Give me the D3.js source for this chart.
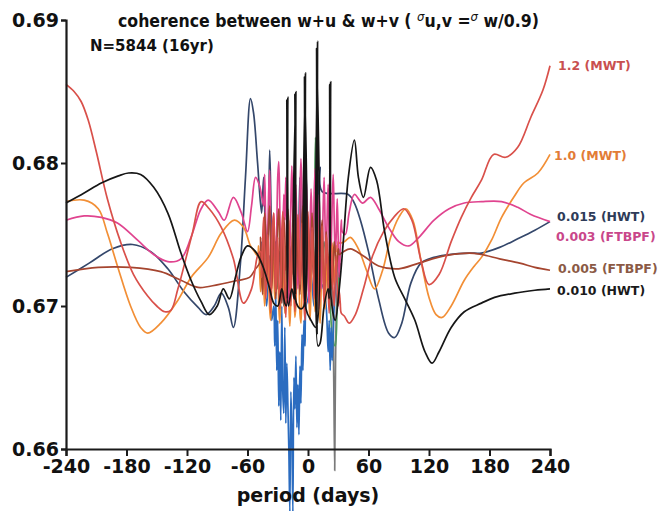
<!DOCTYPE html>
<html><head><meta charset="utf-8">
<script src="https://cdn.jsdelivr.net/npm/d3@7"></script>
<style>
html,body{margin:0;padding:0;background:#fff;}
svg{display:block;}
</style></head>
<body>
<svg id="chart" width="663" height="511"></svg>
<script>
// x ticks (period, days) and y ticks (coherence)
const xTicks = [-240, -180, -120, -60, 0, 60, 120, 180, 240];
const yTicks = [0.66, 0.67, 0.68, 0.69];

// Each curve: smooth outer parts as [period, coherence] pairs, and the
// dense short-period part as values on a regular period grid.
const mwt12Left = [[-240,0.6855],[-232,0.6850],[-225,0.6843],[-218,0.6830],[-210,0.6808],[-199,0.6775],[-186,0.6745],[-173,0.6722],[-159,0.6707],[-150,0.6700],[-142,0.6696],[-136,0.6697],[-129,0.6712],[-115,0.6750],[-106,0.6773],[-98,0.6768],[-86,0.6755],[-74,0.6733],[-64,0.6702],[-56,0.6712],[-50,0.6735]];
const mwt12Mid = {start: -47, step: 1, values: [
  0.6738,0.6720,0.6745,0.6762,0.6730,0.6705,0.6718,0.6750,0.6740,0.6712,
  0.6695,0.6728,0.6758,0.6765,0.6735,0.6710,0.6725,0.6748,0.6720,0.6698,
  0.6715,0.6752,0.6766,0.6740,0.6708,0.6692,0.6722,0.6745,0.6760,0.6728,
  0.6700,0.6735,0.6755,0.6718,0.6696,0.6712,0.6748,0.6764,0.6738,0.6715,
  0.6730,0.6758,0.6725,0.6702,0.6690,0.6720,0.6750,0.6766,0.6742,0.6710,
  0.6728,0.6755,0.6735,0.6705,0.6718,0.6746,0.6762,0.6730,0.6698,0.6712,
  0.6740,0.6756,0.6722,0.6700,0.6728,0.6750,0.6738,0.6712,0.6695,0.6718,
  0.6742,0.6730,0.6708,0.6700,0.6722,0.6735,0.6715,0.6700,0.6710,0.6702,0.6695]};
const mwt12Right = [[36,0.6693],[41,0.6688],[47,0.6694],[55,0.6712],[64,0.6735],[75,0.6752],[85,0.6762],[95,0.6768],[103,0.6760],[112,0.6732],[120,0.6715],[130,0.6722],[142,0.6745],[152,0.6762],[162,0.6776],[172,0.6788],[184,0.6806],[196,0.6804],[208,0.6811],[221,0.6832],[233,0.6851],[240,0.6868]];

const mwt10Left = [[-240,0.6773],[-222,0.6774],[-208,0.6768],[-199,0.6751],[-189,0.6728],[-176,0.6700],[-166,0.6685],[-159,0.6681],[-146,0.6688],[-129,0.6704],[-116,0.6720],[-99,0.6734],[-86,0.6751],[-73,0.6760],[-64,0.6755],[-57,0.6742],[-53,0.6738]];
const mwt10Mid = {start: -50, step: 1, values: [
  0.6735,0.6742,0.6725,0.6710,0.6728,0.6740,0.6718,0.6700,0.6712,0.6735,
  0.6745,0.6722,0.6698,0.6690,0.6715,0.6738,0.6728,0.6705,0.6720,0.6742,
  0.6732,0.6700,0.6688,0.6708,0.6730,0.6745,0.6718,0.6695,0.6712,0.6736,
  0.6725,0.6702,0.6686,0.6705,0.6732,0.6740,0.6712,0.6692,0.6700,0.6728,
  0.6742,0.6720,0.6695,0.6688,0.6710,0.6735,0.6725,0.6700,0.6715,0.6738,
  0.6730,0.6705,0.6690,0.6712,0.6735,0.6742,0.6718,0.6696,0.6708,0.6730,
  0.6722,0.6700,0.6688,0.6710,0.6732,0.6740,0.6715,0.6698,0.6718,0.6738,
  0.6728,0.6705,0.6712,0.6735,0.6744,0.6725,0.6715,0.6730,0.6742,0.6738,0.6745,0.6744]};
const mwt10Right = [[36,0.6745],[42,0.6748],[50,0.6740],[58,0.6725],[66,0.6712],[74,0.6725],[82,0.6748],[90,0.6762],[97,0.6768],[104,0.6760],[112,0.6732],[120,0.6706],[127,0.6694],[133,0.6692],[142,0.6700],[155,0.6718],[165,0.6728],[172,0.6734],[182,0.6746],[192,0.6762],[204,0.6776],[214,0.6786],[228,0.6793],[240,0.6806]];

const hwt015Left = [[-240,0.6720],[-217,0.6730],[-194,0.6740],[-174,0.6743],[-156,0.6738],[-139,0.6726],[-123,0.6710],[-109,0.6699],[-101,0.6694],[-93,0.6700],[-86,0.6709],[-79,0.6699],[-74,0.6685],[-67,0.6730],[-62,0.6790],[-57,0.6845],[-54,0.6835],[-50,0.6800],[-46,0.6765],[-44,0.6790],[-42,0.6750],[-40,0.6738],[-38,0.6809],[-36,0.6750]];
const hwt015Mid = {start: -34, step: 2, values: [0.6728,0.6745,0.6712,0.6738,0.6720,0.6700,0.6732,0.6712,0.6742,0.6722,0.6735,0.6712,0.6725,0.6790,0.6730,0.6712,0.6795,0.6735,0.6708,0.6735,0.6720,0.6745,0.6770,0.6797,0.6780]};
const hwt015Right = [[40,0.6778],[46,0.6772],[52,0.6760],[60,0.6738],[70,0.6705],[80,0.6681],[86,0.6678],[93,0.6688],[102,0.6716],[112,0.6730],[125,0.6734],[140,0.6736],[160,0.6737],[172,0.6737],[190,0.6741],[208,0.6747],[225,0.6753],[240,0.6759]];

const hwt010Left = [[-240,0.6772],[-222,0.6779],[-205,0.6786],[-188,0.6791],[-178,0.6793],[-166,0.6792],[-153,0.6783],[-139,0.6765],[-126,0.6737],[-116,0.6718],[-106,0.6703],[-98,0.6694],[-90,0.6700],[-84,0.6712],[-78,0.6705],[-72,0.6720],[-66,0.6735],[-60,0.6742],[-52,0.6738],[-46,0.6730],[-42,0.6722],[-38,0.6712],[-34,0.6702],[-30,0.6700],[-26,0.6712],[-23,0.6702]];
const hwt010Spikes = [[-21.5,0.6700],[-21,0.6844],[-20.5,0.6705],[-20,0.6846],[-19.5,0.6700],[-16,0.6712],[-13.5,0.6705],[-13,0.6848],[-12.5,0.6708],[-12,0.6850],[-11.5,0.6702],[-7,0.6698],[-4,0.6700],[-3.5,0.6860],[-3,0.6700],[-2.5,0.6863],[-2,0.6698],[3,0.6690],[8,0.6685],[8.5,0.6880],[9,0.6680],[9.5,0.6885],[10,0.6672],[12,0.6674],[16,0.6700],[20,0.6712],[21,0.6705],[21.5,0.6855],[22,0.6710],[22.5,0.6857],[23,0.6705],[27,0.6690],[31,0.6712],[35,0.6745]];
const hwt010Right = [[40,0.6790],[46,0.6816],[50,0.6790],[55,0.6776],[62,0.6797],[68,0.6788],[76,0.6752],[86,0.6720],[96,0.6705],[106,0.6690],[116,0.6668],[123,0.6660],[130,0.6668],[142,0.6685],[155,0.6696],[172,0.6702],[185,0.6706],[205,0.6709],[225,0.6711],[240,0.6712]];

const ftbpf003Left = [[-240,0.6760],[-222,0.6763],[-205,0.6762],[-189,0.6758],[-169,0.6746],[-153,0.6736],[-139,0.6731],[-126,0.6733],[-116,0.6748],[-106,0.6768],[-99,0.6774],[-89,0.6766],[-83,0.6760],[-74,0.6776],[-66,0.6765],[-60,0.6752],[-56,0.6770],[-52,0.6790],[-48,0.6784]];
const ftbpf003Mid = {start: -44, step: 1, values: [
  0.6770,0.6792,0.6760,0.6735,0.6748,0.6780,0.6795,0.6752,0.6722,0.6738,
  0.6765,0.6740,0.6710,0.6752,0.6790,0.6801,0.6770,0.6728,0.6705,0.6742,
  0.6778,0.6760,0.6790,0.6745,0.6715,0.6700,0.6738,0.6772,0.6798,0.6762,
  0.6730,0.6755,0.6785,0.6750,0.6712,0.6730,0.6775,0.6803,0.6780,0.6740,
  0.6718,0.6745,0.6792,0.6765,0.6725,0.6702,0.6748,0.6782,0.6760,0.6735,
  0.6770,0.6796,0.6758,0.6720,0.6742,0.6778,0.6750,0.6712,0.6728,0.6768,
  0.6790,0.6755,0.6730,0.6762,0.6785,0.6748,0.6718,0.6740,0.6772,0.6792,
  0.6760,0.6735,0.6750,0.6775,0.6745,0.6720,0.6738,0.6760,0.6752]};
const ftbpf003Right = [[37,0.6750],[41,0.6766],[46,0.6778],[54,0.6772],[62,0.6776],[70,0.6768],[80,0.6755],[90,0.6745],[100,0.6742],[110,0.6748],[125,0.6760],[140,0.6768],[155,0.6772],[172,0.6773],[192,0.6773],[208,0.6769],[221,0.6764],[240,0.6759]];

const ftbpf005Left = [[-240,0.6724],[-208,0.6727],[-176,0.6727],[-146,0.6724],[-126,0.6718],[-109,0.6713],[-89,0.6715],[-69,0.6718],[-58,0.6720],[-52,0.6726]];
const ftbpf005Mid = {start: -48, step: 1, values: [
  0.6730,0.6748,0.6722,0.6708,0.6740,0.6765,0.6750,0.6718,0.6735,0.6760,
  0.6770,0.6738,0.6712,0.6728,0.6755,0.6742,0.6705,0.6722,0.6758,0.6768,
  0.6745,0.6715,0.6702,0.6735,0.6762,0.6750,0.6725,0.6740,0.6768,0.6755,
  0.6720,0.6706,0.6738,0.6760,0.6772,0.6742,0.6715,0.6730,0.6752,0.6735,
  0.6708,0.6725,0.6760,0.6770,0.6740,0.6718,0.6702,0.6732,0.6758,0.6745,
  0.6720,0.6738,0.6765,0.6750,0.6712,0.6728,0.6755,0.6768,0.6735,0.6710,
  0.6725,0.6748,0.6760,0.6732,0.6705,0.6720,0.6752,0.6740,0.6718,0.6735,
  0.6750,0.6728,0.6712,0.6730,0.6745,0.6738,0.6725,0.6732,0.6740,0.6736]};
const ftbpf005Right = [[35,0.6738],[42,0.6740],[55,0.6735],[70,0.6728],[90,0.6726],[110,0.6730],[135,0.6735],[160,0.6737],[172,0.6736],[190,0.6733],[210,0.6730],[225,0.6727],[240,0.6725]];

const blueLeft = [[-46,0.6745],[-44,0.6725],[-41,0.6700],[-38,0.6735],[-36,0.6690]];
const blueMid = {start: -34, step: 1, values: [
  0.6700,0.6672,0.6710,0.6655,0.6690,0.6630,0.6668,0.6620,0.6700,0.6640,
  0.6625,0.6685,0.6618,0.6660,0.6632,0.6600,0.6556,0.6640,0.6612,0.6556,
  0.6650,0.6628,0.6665,0.6615,0.6645,0.6610,0.6658,0.6632,0.6680,0.6655,
  0.6690,0.6672,0.6700]};
const blueRight = [[0,0.6705],[3,0.6722],[6,0.6700],[9,0.6725],[12,0.6710],[15,0.6715],[18,0.6700],[20,0.6668],[21,0.6690],[22,0.6655],[23,0.6685],[24,0.6662],[26,0.6700],[29,0.6725],[32,0.6740]];

const greenSeries = [[4,0.6735],[6,0.6760],[7.5,0.6818],[8.5,0.6770],[10,0.6792],[11,0.6750],[13,0.6730],[16,0.6745],[19,0.6720],[22,0.6700],[24,0.6680],[27,0.6672],[29,0.6700],[31,0.6720]];

const graySeries = [[18,0.6730],[21,0.6722],[24,0.6710],[25.5,0.6650],[26.5,0.6585],[27.3,0.6660],[29,0.6712],[32,0.6730]];

const onGrid = g => g.values.map((v, i) => [g.start + i * g.step, v]);

// drawing order: later entries sit on top
const series = [
  {name: "gray", data: graySeries, color: "#7a7a7a"},
  {name: "green", data: greenSeries, color: "#4f9a5c"},
  {name: "blue", data: blueLeft.concat(onGrid(blueMid), blueRight), color: "#2b6cc0"},
  {name: "0.015 (HWT)", data: hwt015Left.concat(onGrid(hwt015Mid), hwt015Right), color: "#34476b"},
  {name: "1.0 (MWT)", data: mwt10Left.concat(onGrid(mwt10Mid), mwt10Right), color: "#f28f36"},
  {name: "0.003 (FTBPF)", data: ftbpf003Left.concat(onGrid(ftbpf003Mid), ftbpf003Right), color: "#e0448f"},
  {name: "0.005 (FTBPF)", data: ftbpf005Left.concat(onGrid(ftbpf005Mid), ftbpf005Right), color: "#a5452f"},
  {name: "1.2 (MWT)", data: mwt12Left.concat(onGrid(mwt12Mid), mwt12Right), color: "#d9504a"},
  {name: "0.010 (HWT)", data: hwt010Left.concat(hwt010Spikes, hwt010Right), color: "#161616"}
];

// end-of-line labels
const endLabels = [
  {text: "1.2 (MWT)", color: "#c9504f", x: 558, y: 66},
  {text: "1.0 (MWT)", color: "#e27c36", x: 554, y: 156},
  {text: "0.015 (HWT)", color: "#2e3b58", x: 557, y: 217},
  {text: "0.003 (FTBPF)", color: "#c9478a", x: 556, y: 237},
  {text: "0.005 (FTBPF)", color: "#8b5a45", x: 558, y: 269},
  {text: "0.010 (HWT)", color: "#1a1a1a", x: 557, y: 291}
];

const svg = d3.select("#chart");
const x = d3.scaleLinear().domain([-240, 240]).range([66, 550]);
const y = d3.scaleLinear().domain([0.66, 0.69]).range([449, 20]);

const line = d3.line()
  .x(d => x(d[0]))
  .y(d => y(d[1]))
  .curve(d3.curveCatmullRom.alpha(0.5));

svg.append("g").selectAll("path")
  .data(series)
  .join("path")
  .attr("d", d => line(d.data))
  .attr("fill", "none")
  .attr("stroke", d => d.color)
  .attr("stroke-width", 1.7)
  .attr("stroke-linejoin", "round");

// axes
const fontAxis = "'DejaVu Sans', Verdana, sans-serif";
const gx = svg.append("g").attr("transform", `translate(0,${y(0.66)})`)
  .call(d3.axisBottom(x).tickValues(xTicks).tickFormat(d => String(d)).tickSize(7).tickSizeOuter(7).tickPadding(4));
const gy = svg.append("g").attr("transform", `translate(${x(-240)},0)`)
  .call(d3.axisLeft(y).tickValues(yTicks).tickFormat(d3.format(".2f")).tickSize(5).tickSizeOuter(5).tickPadding(2));

[gx, gy].forEach(g => {
  g.select(".domain").attr("stroke", "#1a1a1a").attr("stroke-width", 2.2);
  g.selectAll(".tick line").attr("stroke", "#1a1a1a").attr("stroke-width", 2);
  g.selectAll(".tick text")
    .attr("fill", "#111")
    .style("font-family", fontAxis)
    .style("font-weight", "bold")
    .style("font-size", "19px");
});
gy.selectAll(".tick text").attr("dy", "0.36em");

// axis title
svg.append("text")
  .attr("x", x(0)).attr("y", 502)
  .attr("text-anchor", "middle")
  .style("font-family", fontAxis).style("font-weight", "bold").style("font-size", "19px")
  .attr("fill", "#111")
  .text("period (days)");

// chart title with superscript sigmas
const title = svg.append("text")
  .attr("x", 118).attr("y", 27)
  .style("font-family", "'DejaVu Sans Condensed', 'DejaVu Sans', sans-serif")
  .style("font-weight", "bold").style("font-size", "17.5px")
  .attr("fill", "#111");
title.append("tspan").text("coherence between w+u & w+v  ( ");
title.append("tspan").attr("dy", -6).style("font-size", "13px").style("font-style", "italic").style("font-weight", "normal").text("σ");
title.append("tspan").attr("dy", 6).text("u,v =");
title.append("tspan").attr("dy", -6).style("font-size", "13px").style("font-style", "italic").style("font-weight", "normal").text("σ");
title.append("tspan").attr("dy", 6).text(" w/0.9)");

svg.append("text")
  .attr("x", 90).attr("y", 51)
  .style("font-family", "'DejaVu Sans', sans-serif")
  .style("font-weight", "bold").style("font-size", "15px")
  .attr("fill", "#111")
  .text("N=5844 (16yr)");

svg.append("g").selectAll("text")
  .data(endLabels)
  .join("text")
  .attr("x", d => d.x).attr("y", d => d.y)
  .attr("dy", "0.35em")
  .style("font-family", "'DejaVu Sans', Verdana, sans-serif")
  .style("font-weight", "bold").style("font-size", "12.5px")
  .attr("fill", d => d.color)
  .text(d => d.text);
</script>
</body></html>
